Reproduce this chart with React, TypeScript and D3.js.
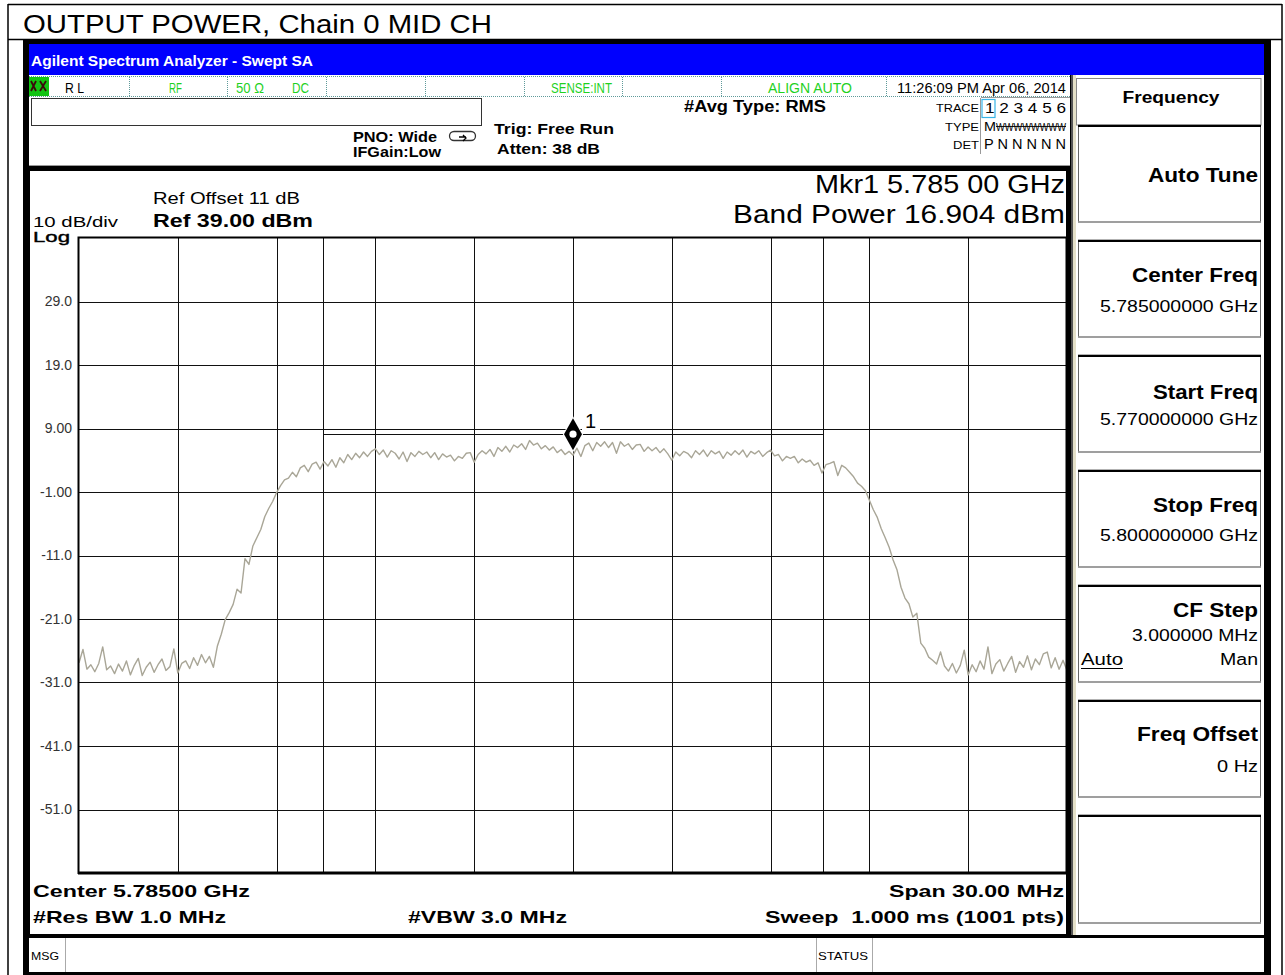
import React from "react";
import * as d3 from "d3";

// ---------- DATA ----------
const startMHz = 5770;
const stopMHz = 5800;
const refLevel = 39;
const dbPerDiv = 10;
const numDivs = 10;
const yTickValues = [29, 19, 9, -1, -11, -21, -31, -41, -51];
const yTickLabels = ["29.0", "19.0", "9.00", "-1.00", "-11.0", "-21.0", "-31.0", "-41.0", "-51.0"];
const bandEdgesMHz = [5777.41, 5792.59];
const bandLevelDbm = 8.1;
const markerMHz = 5785;

// trace, dBm, evenly spaced sweep points across the span (every 4th of 1001 pts)
const traceDbm = [
  -27.9, -25.8, -28.9, -28.2, -29.3, -28.0, -25.4, -29.0, -28.4, -29.6,
  -28.1, -29.2, -27.6, -29.8, -28.3, -27.2, -29.9, -28.6, -27.8, -29.4,
  -28.2, -27.3, -29.1, -28.5, -25.7, -29.5, -28.0, -27.6, -28.8, -27.1,
  -28.3, -26.6, -27.9, -26.9, -28.6, -25.3, -23.4, -21.1, -20.0, -18.7,
  -16.3, -16.9, -11.5, -12.4, -9.5, -8.2, -6.9, -4.9, -3.6, -2.5,
  -1.1, 0.0, 0.9, 1.2, 2.1, 1.4, 2.8, 3.2, 2.2, 3.4,
  3.7, 2.6, 3.8, 3.1, 4.1, 2.9, 4.4, 3.6, 4.9, 4.1,
  5.1, 4.4, 5.3, 4.6, 5.4, 5.8, 4.9, 5.6, 4.5, 5.5,
  5.1, 4.2, 5.3, 3.8, 5.2, 4.6, 5.4, 4.9, 5.3, 4.4,
  5.2, 4.1, 5.0, 4.5, 4.8, 3.9, 4.6, 4.3, 5.1, 5.2,
  3.7, 4.9, 5.5, 5.0, 5.7, 4.6, 6.0, 5.4, 6.2, 5.3,
  6.4, 6.0, 6.6, 5.7, 7.1, 6.4, 6.7, 5.8, 6.3, 5.6,
  6.1, 5.2, 5.7, 4.9, 5.4, 4.8, 5.9, 4.6, 6.3, 6.7,
  5.5, 6.8, 6.2, 6.9, 6.0, 6.8, 5.1, 6.9, 6.2, 6.6,
  5.7, 6.4, 6.5, 5.4, 6.1, 5.5, 6.0, 5.2, 5.8, 5.0,
  4.0, 5.3, 4.7, 5.4, 5.1, 4.4, 5.5, 4.9, 5.6, 4.6,
  5.5, 5.0, 5.4, 4.3, 5.3, 4.8, 5.5, 4.9, 5.6, 4.5,
  5.4, 5.0, 5.5, 4.6, 5.2, 5.6, 4.7, 4.9, 3.9, 4.6,
  4.3, 4.6, 3.6, 4.2, 3.7, 4.0, 3.2, 3.6, 2.0, 3.3,
  3.5, 3.8, 1.6, 3.2, 2.8, 2.1, 1.4, 0.4, -0.1, -0.8,
  -2.3, -3.8, -5.0, -6.8, -8.2, -9.7, -11.7, -13.3, -16.0, -17.7,
  -18.6, -20.7, -20.1, -24.8, -25.6, -27.0, -27.5, -28.1, -26.2, -28.4,
  -29.2, -28.0, -29.5, -28.3, -25.9, -29.8, -28.2, -29.3, -27.6, -28.9,
  -25.4, -29.6, -28.1, -27.4, -29.2, -28.0, -26.9, -29.4, -27.7, -28.6,
  -26.8, -29.0, -27.3, -28.2, -26.5, -26.2, -28.7, -27.1, -28.9, -27.5,
  -29.1,
];

const softkeys = [
  { label: "Auto Tune", value: "" },
  { label: "Center Freq", value: "5.785000000 GHz" },
  { label: "Start Freq", value: "5.770000000 GHz" },
  { label: "Stop Freq", value: "5.800000000 GHz" },
  { label: "CF Step", value: "3.000000 MHz" },
  { label: "Freq Offset", value: "0 Hz" },
  { label: "", value: "" },
];

// ---------- LAYOUT ----------
const FONT = "'Liberation Sans', Arial, Helvetica, sans-serif";
const PL = 79, PR = 1067, PT = 238, PB = 873;

type TP = {
  x: number; y: number; w?: number; size: number; bold?: boolean;
  anchor?: "start" | "middle" | "end"; fill?: string; children: React.ReactNode;
};
function T({ x, y, w, size, bold, anchor = "start", fill = "#000", children }: TP) {
  return (
    <text
      x={x}
      y={y}
      fontSize={size}
      fontWeight={bold ? "bold" : "normal"}
      textAnchor={anchor}
      fill={fill}
      fontFamily={FONT}
      textLength={w}
      lengthAdjust={w ? "spacingAndGlyphs" : undefined}
    >
      {children}
    </text>
  );
}

export default function App() {
  const x = d3.scaleLinear().domain([startMHz, stopMHz]).range([PL, PR]);
  const y = d3.scaleLinear().domain([refLevel - dbPerDiv * numDivs, refLevel]).range([PB, PT]);
  const n = traceDbm.length;
  const freqAt = (i: number) => startMHz + (i * (stopMHz - startMHz)) / (n - 1);
  const line = d3
    .line<number>()
    .x((_, i) => x(freqAt(i)))
    .y((d) => y(d))
    .curve(d3.curveLinear);

  const vGrid = d3.range(1, numDivs).map((k) => startMHz + (k * (stopMHz - startMHz)) / numDivs);
  const hGrid = d3.range(1, numDivs).map((k) => refLevel - k * dbPerDiv);

  const mx = x(markerMHz);
  const my = y(bandLevelDbm);
  const diamond = `M${mx},${my - 16} L${mx + 9},${my} L${mx},${my + 16} L${mx - 9},${my} Z`;

  const green = "#1fd11f";
  const dotted = "#5f9a9a";
  const statusSeps = [129, 227, 326, 425, 524, 622, 721, 886];

  return (
    <svg
      width={1285}
      height={975}
      style={{ position: "absolute", left: 0, top: 0 }}
      xmlns="http://www.w3.org/2000/svg"
    >
      <rect x={0} y={0} width={1285} height={975} fill="#fff" />
      {/* outer report frame */}
      <line x1={8} y1={4.5} x2={1282} y2={4.5} stroke="#000" strokeWidth={1.5} />
      <line x1={8} y1={4} x2={8} y2={975} stroke="#000" strokeWidth={1.5} />
      <line x1={1282} y1={4} x2={1282} y2={975} stroke="#000" strokeWidth={1.5} />
      <line x1={8} y1={39.5} x2={1282} y2={39.5} stroke="#000" strokeWidth={1.5} />
      <T x={23} y={33} w={469} size={25}>OUTPUT POWER, Chain 0 MID CH</T>

      {/* screenshot frame */}
      <rect x={23} y={40} width={1248} height={935} fill="#000" />
      <rect x={29} y={44} width={1235} height={31} fill="#0000fe" />
      <T x={31} y={66} w={282} size={15} bold fill="#fff">Agilent Spectrum Analyzer - Swept SA</T>

      {/* header */}
      <rect x={29} y={75} width={1041} height={91} fill="#fff" />
      <line x1={29} y1={165.5} x2={1070} y2={165.5} stroke="#999" strokeWidth={1} />
      <line x1={29} y1={76.5} x2={1070} y2={76.5} stroke={dotted} strokeWidth={1} strokeDasharray="1 1" />
      <line x1={29} y1={96.5} x2={1070} y2={96.5} stroke={dotted} strokeWidth={1} strokeDasharray="1 1" />
      {statusSeps.map((sx) => (
        <line key={sx} x1={sx + 0.5} y1={77} x2={sx + 0.5} y2={96} stroke={dotted} strokeWidth={1} strokeDasharray="1 1" />
      ))}
      <rect x={29} y={77} width={20} height={19} fill="#12c412" />
      <path d="M31,81 L36,91 M36,81 L31,91 M40,81 L46,91 M46,81 L40,91" stroke="#3a0a0a" strokeWidth={1.8} />
      <T x={65} y={93} w={19} size={14}>R L</T>
      <T x={169} y={93} w={13} size={14} fill={green}>RF</T>
      <T x={236} y={93} w={28} size={14} fill={green}>50 Ω</T>
      <T x={292} y={93} w={17} size={14} fill={green}>DC</T>
      <T x={551} y={93} w={61} size={14} fill={green}>SENSE:INT</T>
      <T x={768} y={93} w={84} size={14} fill={green}>ALIGN AUTO</T>
      <T x={897} y={93} w={169} size={14}>11:26:09 PM Apr 06, 2014</T>

      <rect x={31.5} y={98.5} width={450} height={27} fill="#fff" stroke="#333" strokeWidth={1} />
      <T x={353} y={142} w={84} size={15} bold>PNO: Wide</T>
      <rect x={449.5} y={131.5} width={26} height={9} rx={4.5} fill="#fff" stroke="#333" strokeWidth={1.3} />
      <path d="M459,137 L466,137 M463,135 L466,138 L463,141" stroke="#000" strokeWidth={1.3} fill="none" />
      <T x={353} y={157} w={88} size={15} bold>IFGain:Low</T>
      <T x={494} y={134} w={120} size={15} bold>Trig: Free Run</T>
      <T x={497} y={154} w={103} size={15} bold>Atten: 38 dB</T>
      <T x={684} y={112} w={142} size={16} bold>#Avg Type: RMS</T>

      <line x1={981} y1={97.5} x2={1070} y2={97.5} stroke="#999" strokeWidth={1} />
      <line x1={980.5} y1={98} x2={980.5} y2={154} stroke="#999" strokeWidth={1} />
      <T x={979} y={112} w={43} size={11} anchor="end">TRACE</T>
      <T x={979} y={131} w={34} size={11} anchor="end">TYPE</T>
      <T x={979} y={149} w={26} size={11} anchor="end">DET</T>
      <rect x={982} y={99.5} width={13} height={18} fill="none" stroke="#38b4e8" strokeWidth={1.2} />
      <T x={985} y={113} w={81} size={15}>1 2 3 4 5 6</T>
      <T x={984} y={131} w={12} size={13}>M</T>
      <T x={996} y={131} w={70} size={11}>WWWWWWWW</T>
      <line x1={996} y1={126.5} x2={1066} y2={126.5} stroke="#000" strokeWidth={0.9} />
      <T x={984} y={149} w={82} size={14}>P N N N N N</T>

      {/* display area */}
      <rect x={30} y={171} width={1036} height={763} fill="#fff" />
      <T x={153} y={204} w={147} size={16}>Ref Offset 11 dB</T>
      <T x={153} y={227} w={160} size={19} bold>Ref 39.00 dBm</T>
      <T x={33} y={227} w={85} size={15}>10 dB/div</T>
      <text x={33} y={242} fontSize={15} fontFamily={FONT} textLength={37} lengthAdjust="spacingAndGlyphs" stroke="#000" strokeWidth={0.4}>Log</text>
      <T x={1065} y={193} w={250} size={25} anchor="end">Mkr1 5.785 00 GHz</T>
      <T x={1065} y={223} w={332} size={26} anchor="end">Band Power 16.904 dBm</T>

      {/* plot */}
      <rect x={PL} y={PT} width={PR - PL} height={PB - PT} fill="#fff" />
      {vGrid.map((f) => (
        <line key={"v" + f} x1={Math.round(x(f)) + 0.5} y1={PT} x2={Math.round(x(f)) + 0.5} y2={PB} stroke="#111" strokeWidth={1} />
      ))}
      {hGrid.map((v) => (
        <line key={"h" + v} x1={PL} y1={Math.round(y(v)) + 0.5} x2={PR} y2={Math.round(y(v)) + 0.5} stroke="#111" strokeWidth={1} />
      ))}
      {yTickValues.map((v, i) => (
        <text key={"t" + v} x={72} y={y(v) + 1} fontSize={14} fill="#333" textAnchor="end" dominantBaseline="middle" fontFamily={FONT}>
          {yTickLabels[i]}
        </text>
      ))}
      {/* band power edges and level */}
      {bandEdgesMHz.map((f) => (
        <line key={"b" + f} x1={Math.round(x(f)) + 0.5} y1={PT} x2={Math.round(x(f)) + 0.5} y2={PB} stroke="#111" strokeWidth={1} />
      ))}
      <line x1={x(bandEdgesMHz[0])} y1={Math.round(my) + 0.5} x2={x(bandEdgesMHz[1])} y2={Math.round(my) + 0.5} stroke="#111" strokeWidth={1} />
      {/* marker label background */}
      <rect x={mx + 9} y={my - 22} width={18} height={19} fill="#fff" />
      {/* trace */}
      <path d={line(traceDbm) || ""} fill="none" stroke="#a9a697" strokeWidth={1.4} strokeLinejoin="round" />
      {/* marker */}
      <path d={diamond} fill="#000" stroke="#fff" strokeWidth={2} />
      <path d={diamond} fill="#000" />
      <circle cx={mx} cy={my} r={3.6} fill="#fff" />
      <T x={mx + 12} y={my - 6} size={20}>1</T>
      {/* plot border */}
      <rect x={PL - 0.5} y={PT - 0.5} width={PR - PL + 1} height={PB - PT + 0.5} fill="none" stroke="#000" strokeWidth={2} />
      <line x1={PL - 1} y1={PB} x2={PR + 2} y2={PB} stroke="#000" strokeWidth={3} />
      <line x1={PR} y1={PT - 1} x2={PR} y2={PB + 1} stroke="#000" strokeWidth={3} />

      <T x={33} y={897} w={217} size={17} bold>Center 5.78500 GHz</T>
      <T x={33} y={923} w={193} size={17} bold>#Res BW 1.0 MHz</T>
      <T x={408} y={923} w={159} size={17} bold>#VBW 3.0 MHz</T>
      <T x={1064} y={897} w={175} size={17} bold anchor="end">Span 30.00 MHz</T>
      <text x={1064} y={923} fontSize={17} fontWeight="bold" textAnchor="end" fontFamily={FONT} textLength={299} lengthAdjust="spacingAndGlyphs" style={{ whiteSpace: "pre" }}>
        {"Sweep  1.000 ms (1001 pts)"}
      </text>

      {/* softkey panel */}
      <rect x={1072} y={75} width={192} height={860} fill="#fff" />
      <rect x={1071} y={75} width={2} height={860} fill="#555" />
      <rect x={1073} y={75} width={3} height={860} fill="#e4e0c8" />
      <rect x={1076.5} y={78.5} width={184.5} height={46.5} fill="#fff" stroke="#888" strokeWidth={1} />
      <T x={1171} y={103} w={97} size={16} bold anchor="middle">Frequency</T>
      {softkeys.map((sk, k) => {
        const top = 125 + 115 * k;
        const h = k === softkeys.length - 1 ? 108 : 97;
        return (
          <g key={"sk" + k}>
            <rect x={1078.5} y={top} width={182} height={h} fill="#fff" stroke="#666" strokeWidth={1} />
            <line x1={1078} y1={top + 1} x2={1261} y2={top + 1} stroke="#000" strokeWidth={2} />
            <line x1={1078} y1={top + h} x2={1261} y2={top + h} stroke="#999" strokeWidth={1.5} />
          </g>
        );
      })}
      <T x={1258} y={182} w={110} size={20} bold anchor="end">{softkeys[0].label}</T>
      <T x={1258} y={240 + 42} w={126} size={20} bold anchor="end">{softkeys[1].label}</T>
      <T x={1258} y={240 + 72} w={158} size={16} anchor="end">{softkeys[1].value}</T>
      <T x={1258} y={355 + 44} w={105} size={20} bold anchor="end">{softkeys[2].label}</T>
      <T x={1258} y={355 + 70} w={158} size={16} anchor="end">{softkeys[2].value}</T>
      <T x={1258} y={470 + 42} w={105} size={20} bold anchor="end">{softkeys[3].label}</T>
      <T x={1258} y={470 + 71} w={158} size={16} anchor="end">{softkeys[3].value}</T>
      <T x={1258} y={585 + 32} w={85} size={20} bold anchor="end">{softkeys[4].label}</T>
      <T x={1258} y={585 + 56} w={126} size={16} anchor="end">{softkeys[4].value}</T>
      <T x={1081} y={585 + 80} w={42} size={16}>Auto</T>
      <line x1={1081} y1={668.5} x2={1123} y2={668.5} stroke="#000" strokeWidth={1.2} />
      <T x={1258} y={585 + 80} w={38} size={16} anchor="end">Man</T>
      <T x={1258} y={700 + 41} w={121} size={20} bold anchor="end">{softkeys[5].label}</T>
      <T x={1258} y={700 + 72} w={41} size={16} anchor="end">{softkeys[5].value}</T>

      {/* bottom status bar */}
      <rect x={29} y={938} width={1235} height={34} fill="#fff" />
      <line x1={65.5} y1={938} x2={65.5} y2={972} stroke="#aaa" strokeWidth={1} />
      <T x={31} y={960} w={28} size={11}>MSG</T>
      <line x1={816.5} y1={938} x2={816.5} y2={972} stroke="#aaa" strokeWidth={1} />
      <line x1={872.5} y1={938} x2={872.5} y2={972} stroke="#aaa" strokeWidth={1} />
      <T x={818} y={960} w={50} size={11}>STATUS</T>
    </svg>
  );
}
